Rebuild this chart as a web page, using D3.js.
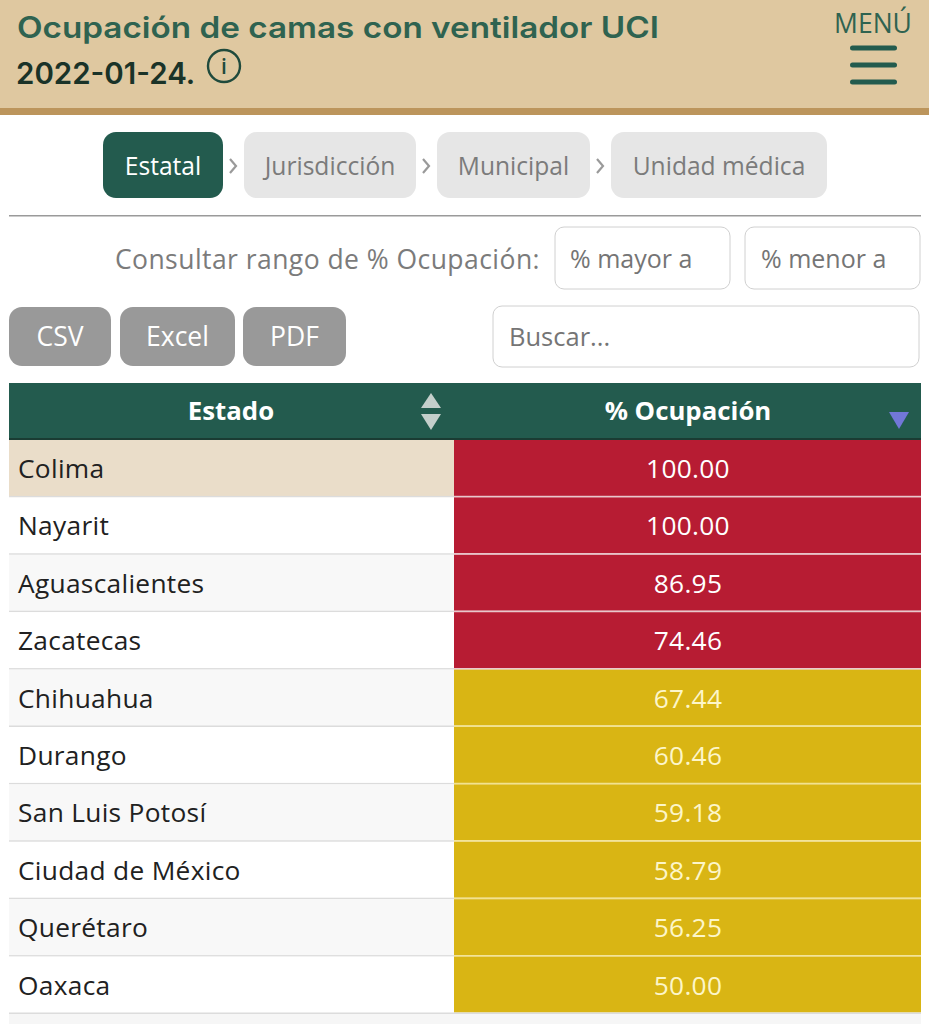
<!DOCTYPE html>
<html>
<head>
<meta charset="utf-8">
<script src="https://cdn.jsdelivr.net/npm/d3@7"></script>
<style>
    html, body { margin: 0; padding: 0; background: #fff; overflow: hidden; }
    svg { display: block; }
    text { font-family: "Open Sans", sans-serif; }
    .title { font-family: Inter, sans-serif; font-weight: 600; font-size: 29.5px; }
</style>
</head>
<body>
<div id="chart"></div>
<script>
var estados = ['Colima', 'Nayarit', 'Aguascalientes', 'Zacatecas', 'Chihuahua', 'Durango',
    'San Luis Potosí', 'Ciudad de México', 'Querétaro', 'Oaxaca'];
var ocupacion = [100.00, 100.00, 86.95, 74.46, 67.44, 60.46, 59.18, 58.79, 56.25, 50.00];
var niveles = ['Estatal', 'Jurisdicción', 'Municipal', 'Unidad médica'];
var exportar = ['CSV', 'Excel', 'PDF'];
var columnas = ['Estado', '% Ocupación'];

var width = 929, height = 1024;
var verde = '#235b4e', gris = '#999999';

var svg = d3.select('#chart').append('svg').attr('width', width).attr('height', height);

// rounded box with optional centered label
function box(x, y, w, h, r, fill, stroke) {
    return svg.append('rect').attr('x', x).attr('y', y).attr('width', w).attr('height', h)
        .attr('rx', r).attr('fill', fill).attr('stroke', stroke || 'none');
}
function label(x, y, txt, size, color, anchor, weight) {
    return svg.append('text').attr('x', x).attr('y', y).text(txt)
        .attr('font-size', size).attr('fill', color)
        .attr('text-anchor', anchor || 'start').attr('font-weight', weight || 400);
}

// header band
box(0, 0, width, 109, 0, '#dfc8a0');
box(0, 108, width, 7, 0, '#bc955c');
svg.append('text').attr('class', 'title').attr('x', 17).attr('y', 38).attr('fill', '#2f6350')
    .attr('textLength', 642).attr('lengthAdjust', 'spacingAndGlyphs')
    .text('Ocupación de camas con ventilador UCI');
svg.append('text').attr('class', 'title').attr('x', 16).attr('y', 84).attr('fill', '#1a3328')
    .text('2022-01-24.');
svg.append('circle').attr('cx', 224).attr('cy', 66).attr('r', 16)
    .attr('fill', 'none').attr('stroke', '#1f4a3c').attr('stroke-width', 2.4);
svg.append('text').attr('x', 224).attr('y', 74).attr('text-anchor', 'middle')
    .attr('font-size', 21).attr('font-weight', 600).attr('fill', '#1f4a3c').text('i');
label(873, 33, 'MENÚ', 26.5, '#2f6350', 'middle');
[48, 65, 82].forEach(function(y) {
    box(850, y - 2.5, 47, 5, 2.5, verde);
});

// breadcrumb
var pasos = d3.scaleOrdinal().domain(niveles).range([[103, 120], [244, 172], [437, 153], [611, 216]]);
svg.selectAll('.paso').data(niveles).enter().append('rect').attr('class', 'paso')
    .attr('x', function(d) { return pasos(d)[0]; })
    .attr('y', 132)
    .attr('width', function(d) { return pasos(d)[1]; })
    .attr('height', 66)
    .attr('rx', 13)
    .attr('fill', function(d, i) { return i === 0 ? verde : '#e6e6e6'; });
svg.selectAll('.pasoTxt').data(niveles).enter().append('text').attr('class', 'pasoTxt')
    .attr('x', function(d) { return pasos(d)[0] + pasos(d)[1] / 2; })
    .attr('y', 174.5)
    .attr('text-anchor', 'middle')
    .attr('font-size', 24.6)
    .attr('fill', function(d, i) { return i === 0 ? '#fff' : '#7b7b7b'; })
    .text(function(d) { return d; });
svg.selectAll('.flecha').data(niveles.slice(1)).enter().append('path').attr('class', 'flecha')
    .attr('d', function(d) {
        var cx = pasos(d)[0] - 11;
        return d3.line()([[cx - 3, 159], [cx + 3, 166], [cx - 3, 173]]);
    })
    .attr('fill', 'none')
    .attr('stroke', '#9a9a9a')
    .attr('stroke-width', 2.2);

box(9, 215, 912, 1.5, 0, '#9a9a9a');

// filtro de rango
label(540, 269, 'Consultar rango de % Ocupación:', 26.5, '#7b7b7b', 'end').attr('letter-spacing', 0.45);
box(555, 227, 175, 62, 9, '#fff', '#d0d0d0');
box(745, 227, 175, 62, 9, '#fff', '#d0d0d0');
label(570, 268, '% mayor a', 25, '#757575');
label(761, 268, '% menor a', 25, '#757575');

// botones de exportar
var botones = d3.scaleOrdinal().domain(exportar).range([[9, 102], [120, 115], [243, 103]]);
svg.selectAll('.boton').data(exportar).enter().append('rect').attr('class', 'boton')
    .attr('x', function(d) { return botones(d)[0]; })
    .attr('y', 307)
    .attr('width', function(d) { return botones(d)[1]; })
    .attr('height', 59)
    .attr('rx', 13)
    .attr('fill', gris);
svg.selectAll('.botonTxt').data(exportar).enter().append('text').attr('class', 'botonTxt')
    .attr('x', function(d) { return botones(d)[0] + botones(d)[1] / 2; })
    .attr('y', 346)
    .attr('text-anchor', 'middle')
    .attr('font-size', 26.5)
    .attr('fill', '#fff')
    .text(function(d) { return d; });
box(493, 306, 426, 61, 9, '#fff', '#d0d0d0');
label(509, 346, 'Buscar...', 25.5, '#757575');

// tabla
var colX = [9, 454, 921];
var y = d3.scaleBand().domain(estados).range([440, 1014]);
var color = d3.scaleThreshold().domain([70]).range(['#d9b514', '#b71c33']);

box(9, 383, 912, 57, 0, verde);
box(9, 438, 912, 2, 0, '#1a3c33');
label(231, 420, columnas[0], 25.8, '#fff', 'middle', 700);
label(688, 420, columnas[1], 25.8, '#fff', 'middle', 700);
svg.append('path').attr('d', 'M431 393 L441 408 L421 408 Z').attr('fill', '#c4cfcb');
svg.append('path').attr('d', 'M431 430 L441 414 L421 414 Z').attr('fill', '#c4cfcb');
svg.append('path').attr('d', 'M899 429 L909 412 L889 412 Z').attr('fill', '#7277d8');

var filas = svg.selectAll('.fila').data(estados).enter().append('g').attr('class', 'fila');
filas.append('rect')
    .attr('x', colX[0])
    .attr('y', function(d) { return y(d); })
    .attr('width', colX[1] - colX[0])
    .attr('height', y.bandwidth())
    .attr('fill', function(d, i) { return i === 0 ? '#eaddc9' : (i % 2 ? '#fff' : '#f8f8f8'); });
filas.append('rect')
    .attr('x', colX[0])
    .attr('y', function(d) { return y(d) + y.bandwidth() - 1.5; })
    .attr('width', colX[1] - colX[0])
    .attr('height', 1.5)
    .attr('fill', '#dcdcdc');
filas.append('rect')
    .attr('x', colX[1])
    .attr('y', function(d) { return y(d); })
    .attr('width', colX[2] - colX[1])
    .attr('height', y.bandwidth() - 1.5)
    .attr('fill', function(d, i) { return color(ocupacion[i]); });
filas.append('rect')
    .attr('x', colX[1])
    .attr('y', function(d) { return y(d) + y.bandwidth() - 1.5; })
    .attr('width', colX[2] - colX[1])
    .attr('height', 1.5)
    .attr('fill', function(d, i) { return i === estados.length - 1 ? '#dcdcdc' : (ocupacion[i] >= 70 ? '#e8c7cc' : '#f2e28f'); });
filas.append('text')
    .attr('x', 18)
    .attr('y', function(d) { return y(d) + 38; })
    .attr('font-size', 26.3)
    .attr('letter-spacing', 0.3)
    .attr('fill', '#212121')
    .text(function(d) { return d; });
filas.append('text')
    .attr('x', 688)
    .attr('y', function(d) { return y(d) + 38; })
    .attr('text-anchor', 'middle')
    .attr('font-size', 26.3)
    .attr('letter-spacing', 0.3)
    .attr('fill', function(d, i) { return ocupacion[i] >= 70 ? '#fff' : '#fdf6c9'; })
    .text(function(d, i) { return d3.format('.2f')(ocupacion[i]); });

// fila siguiente, cortada por la captura
box(9, 1014, 912, 10, 0, '#f6f6f6');
</script>
</body>
</html>
